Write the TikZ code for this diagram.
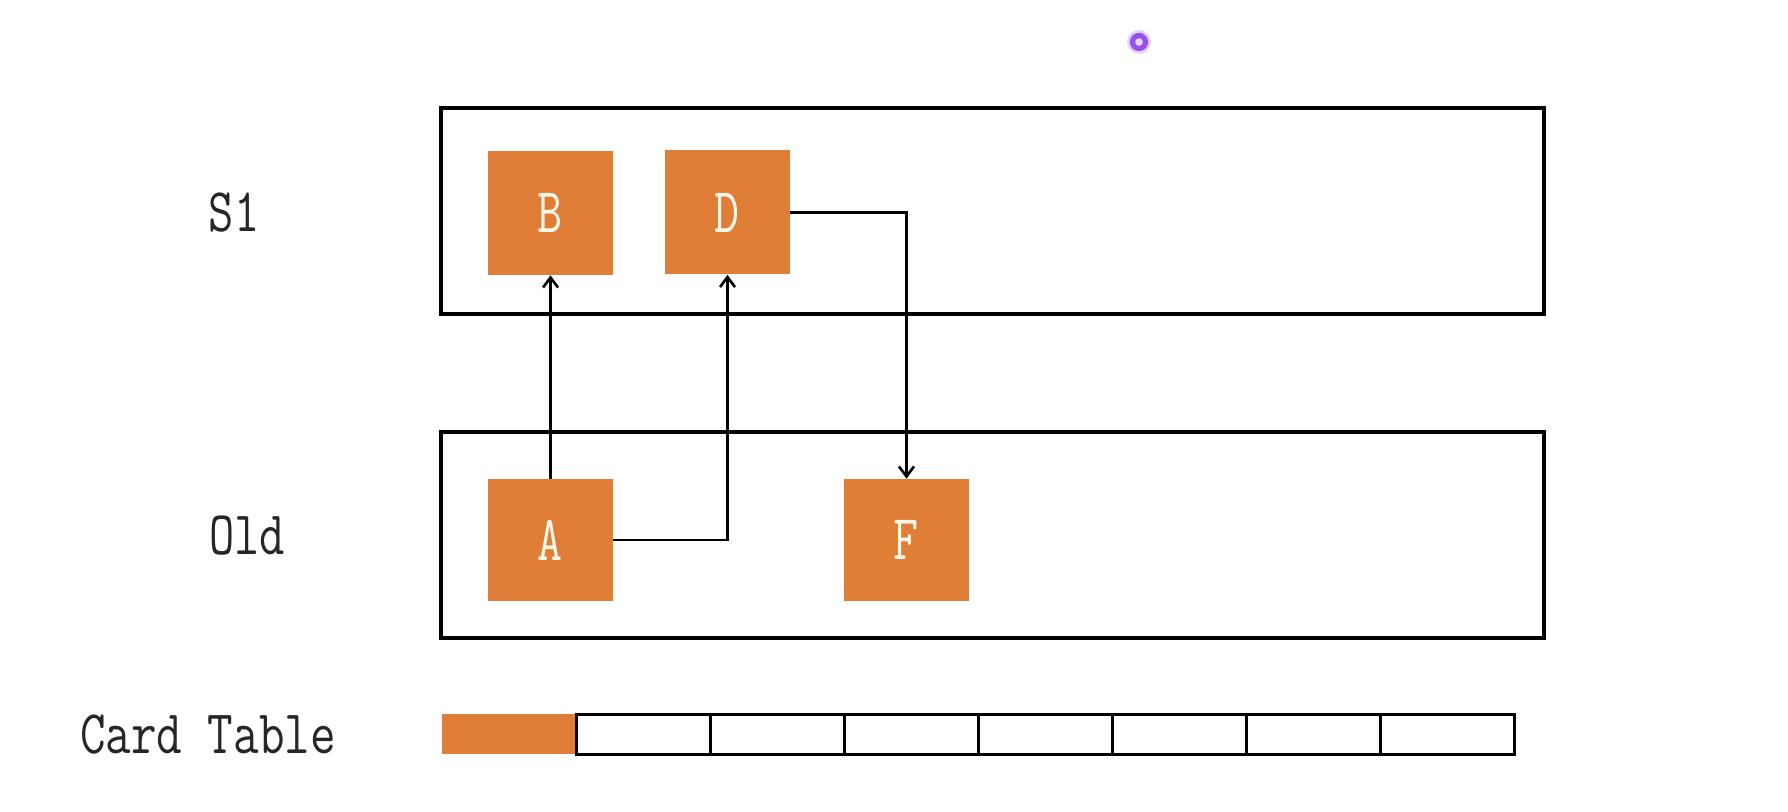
\documentclass[tikz,border=0pt]{standalone}
\usetikzlibrary{arrows.meta}
\definecolor{boxorange}{RGB}{224,125,55}
\definecolor{cream}{RGB}{255,248,232}
\definecolor{cursorpurple}{RGB}{150,80,235}
\begin{document}
\begin{tikzpicture}[x=0.5pt,y=-0.5pt,
  region/.style={draw=black,line width=1.8pt,fill=none},
  obj/.style={fill=boxorange,draw=none,minimum width=62.5pt,minimum height=62pt,inner sep=0pt,text=cream,font=\ttfamily\fontsize{32}{32}\selectfont},
  lbl/.style={text=black!85,inner sep=0pt,font=\ttfamily\fontsize{31}{31}\selectfont},
  cell/.style={draw=black,line width=1.5pt,minimum width=67pt,minimum height=20pt,inner sep=0pt},
  link/.style={draw=black,line width=1.4pt,-{Straight Barb[length=5pt,width=7.5pt,line width=1.3pt]}}]
\useasboundingbox (0,0) rectangle (1788,812);
\fill[white] (0,0) rectangle (1788,812);
% cursor mark
\fill[cursorpurple!25] (1139,42) circle (12);
\draw[cursorpurple,line width=2.6pt] (1139,42) circle (6.5);
% regions
\node[region,minimum width=551.5pt,minimum height=103pt,inner sep=0pt] (s1) at (992.5,211) {};
\node[region,minimum width=551.5pt,minimum height=103pt,inner sep=0pt] (old) at (992.5,535) {};
% labels
\node[lbl] (ls1) at (234,213) {\scalebox{0.79}[1]{S1}};
\node[lbl] (lold) at (247,536) {\scalebox{0.79}[1]{Old}};
\node[lbl] (lcard) at (208,735) {\scalebox{0.8}[1]{Card Table}};
% objects
\node[obj] (B) at (550.5,213) {\scalebox{0.76}[1]{B}};
\node[obj] (D) at (727.5,212.5) {\scalebox{0.76}[1]{D}};
\node[obj,minimum height=61pt] (A) at (550.5,540) {\scalebox{0.76}[1]{A}};
\node[obj,minimum height=61pt] (F) at (906.5,540) {\scalebox{0.76}[1]{F}};
% card table
\node[fill=boxorange,minimum width=67pt,minimum height=20pt,inner sep=0pt] (c0) at (509,734) {};
\foreach \i in {1,...,7} {
  \node[cell] (c\i) at ({509+134.1*\i},734) {};
}
% connectors
\draw[link] (A.north) -- (B.south);
\draw[link] (A.east) -| (D.south);
\draw[link] (D.east) -| (F.north);
\end{tikzpicture}
\end{document}
